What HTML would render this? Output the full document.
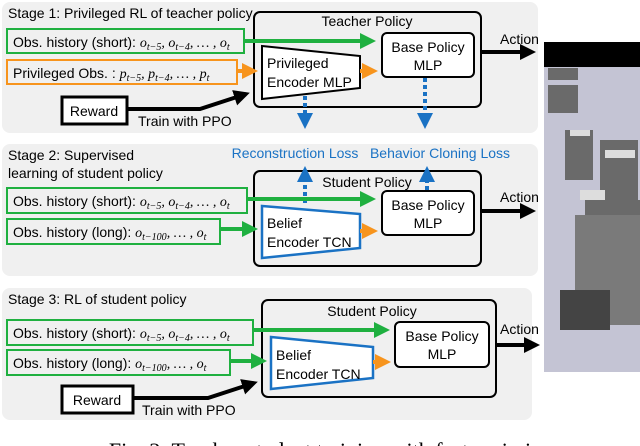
<!DOCTYPE html>
<html><head><meta charset="utf-8"><style>
html,body{margin:0;padding:0;background:#fff;}
svg{display:block;font-family:"Liberation Sans",sans-serif;}
.m{font-family:"Liberation Serif",serif;font-style:italic;}
</style></head><body>
<svg width="640" height="446" viewBox="0 0 640 446" xmlns="http://www.w3.org/2000/svg">
<defs>
<marker id="ag" markerWidth="4" markerHeight="4" refX="3" refY="2" orient="auto" markerUnits="strokeWidth"><path d="M0,0L4,2L0,4z" fill="#1fb040"/></marker>
<marker id="ao" markerWidth="4" markerHeight="4" refX="3" refY="2" orient="auto" markerUnits="strokeWidth"><path d="M0,0L4,2L0,4z" fill="#f7941d"/></marker>
<marker id="ak" markerWidth="4" markerHeight="4" refX="3" refY="2" orient="auto" markerUnits="strokeWidth"><path d="M0,0L4,2L0,4z" fill="#000"/></marker>
<marker id="ab" markerWidth="4" markerHeight="4" refX="3" refY="2" orient="auto" markerUnits="strokeWidth"><path d="M0,0L4,2L0,4z" fill="#1a72c4"/></marker>
</defs>
<rect x="2" y="2" width="536" height="131" rx="8" fill="#f0f0f0"/>
<rect x="2" y="144" width="536" height="132" rx="8" fill="#f0f0f0"/>
<rect x="2" y="288" width="530" height="132" rx="8" fill="#f0f0f0"/>

<rect x="544" y="42" width="96" height="330" fill="#c4c4d4"/>
<rect x="544" y="42" width="96" height="25" fill="#000"/>
<g fill="#6a6a6a">
<rect x="548" y="68" width="30" height="12"/>
<rect x="548" y="85" width="30" height="28"/>
<rect x="565" y="130" width="28" height="50"/>
<rect x="600" y="140" width="38" height="70"/>
<rect x="585" y="200" width="55" height="60"/>
<rect x="575" y="215" width="65" height="110" fill="#7a7a7a"/>
<rect x="560" y="290" width="50" height="40" fill="#444"/>
</g>
<g fill="#ddd"><rect x="580" y="190" width="25" height="10"/><rect x="605" y="150" width="30" height="8"/><rect x="570" y="130" width="20" height="6"/></g>

<text x="8" y="18" font-size="14">Stage 1: Privileged RL of teacher policy</text>
<rect x="254" y="12" width="227" height="95" rx="6" fill="none" stroke="#000" stroke-width="2"/>
<text x="367" y="26" font-size="14" text-anchor="middle">Teacher Policy</text>
<rect x="7" y="29" width="237" height="24" fill="#f0f0f0" stroke="#1fb040" stroke-width="2"/>
<text x="13" y="47" font-size="14">Obs. history (short): <tspan class="m">o<tspan font-size="10" dy="3">t−5</tspan><tspan dy="-3">, o</tspan><tspan font-size="10" dy="3">t−4</tspan><tspan dy="-3">, … , o</tspan><tspan font-size="10" dy="3">t</tspan></tspan></text>
<rect x="7" y="60" width="230" height="24" fill="#f0f0f0" stroke="#f7941d" stroke-width="2"/>
<text x="13" y="78" font-size="14">Privileged Obs. : <tspan class="m">p<tspan font-size="10" dy="3">t−5</tspan><tspan dy="-3">, p</tspan><tspan font-size="10" dy="3">t−4</tspan><tspan dy="-3">, … , p</tspan><tspan font-size="10" dy="3">t</tspan></tspan></text>
<path d="M262,46 L360,56 L360,88 L262,99 Z" fill="#fff" stroke="#000" stroke-width="2"/>
<text x="267" y="68" font-size="14">Privileged</text>
<text x="267" y="87" font-size="14">Encoder MLP</text>
<rect x="382" y="33" width="92" height="44" rx="5" fill="#fff" stroke="#000" stroke-width="2"/>
<text x="428" y="52" font-size="14" text-anchor="middle">Base Policy</text>
<text x="428" y="70" font-size="14" text-anchor="middle">MLP</text>
<line x1="244" y1="41" x2="372" y2="41" stroke="#1fb040" stroke-width="4" marker-end="url(#ag)"/>
<line x1="237" y1="71" x2="254" y2="71" stroke="#f7941d" stroke-width="4" marker-end="url(#ao)"/>
<line x1="360" y1="71" x2="374" y2="71" stroke="#f7941d" stroke-width="4" marker-end="url(#ao)"/>
<line x1="481" y1="52" x2="532" y2="52" stroke="#000" stroke-width="4" marker-end="url(#ak)"/>
<text x="500" y="44" font-size="14">Action</text>
<rect x="62" y="97" width="65" height="27" fill="#fff" stroke="#000" stroke-width="3"/>
<text x="94" y="116" font-size="14" text-anchor="middle">Reward</text>
<path d="M127,109 L200,109 L246,94" fill="none" stroke="#000" stroke-width="4" marker-end="url(#ak)"/>
<text x="138" y="126" font-size="14">Train with PPO</text>
<line x1="305" y1="96" x2="305" y2="125" stroke="#1a72c4" stroke-width="4" stroke-dasharray="4,3" marker-end="url(#ab)"/>
<line x1="425" y1="78" x2="425" y2="125" stroke="#1a72c4" stroke-width="4" stroke-dasharray="4,3" marker-end="url(#ab)"/>

<text x="8" y="160" font-size="14">Stage 2: Supervised</text>
<text x="8" y="178" font-size="14">learning of student policy</text>
<text x="295" y="158" font-size="14" fill="#1a72c4" text-anchor="middle">Reconstruction Loss</text>
<text x="440" y="158" font-size="14" fill="#1a72c4" text-anchor="middle">Behavior Cloning Loss</text>
<rect x="254" y="171" width="227" height="95" rx="6" fill="none" stroke="#000" stroke-width="2"/>
<text x="367" y="187" font-size="14" text-anchor="middle">Student Policy</text>
<line x1="305" y1="203" x2="305" y2="170" stroke="#1a72c4" stroke-width="4" stroke-dasharray="4,3" marker-end="url(#ab)"/>
<line x1="427" y1="190" x2="427" y2="170" stroke="#1a72c4" stroke-width="4" stroke-dasharray="4,3" marker-end="url(#ab)"/>
<rect x="7" y="188" width="240" height="25" fill="#f0f0f0" stroke="#1fb040" stroke-width="2"/>
<text x="13" y="206" font-size="14">Obs. history (short): <tspan class="m">o<tspan font-size="10" dy="3">t−5</tspan><tspan dy="-3">, o</tspan><tspan font-size="10" dy="3">t−4</tspan><tspan dy="-3">, … , o</tspan><tspan font-size="10" dy="3">t</tspan></tspan></text>
<rect x="7" y="219" width="213" height="25" fill="#f0f0f0" stroke="#1fb040" stroke-width="2"/>
<text x="13" y="237" font-size="14">Obs. history (long): <tspan class="m">o<tspan font-size="10" dy="3">t−100</tspan><tspan dy="-3">, … , o</tspan><tspan font-size="10" dy="3">t</tspan></tspan></text>
<path d="M262,206 L360,214 L360,248 L262,258 Z" fill="#fff" stroke="#1a72c4" stroke-width="2.5"/>
<text x="267" y="228" font-size="14">Belief</text>
<text x="267" y="247" font-size="14">Encoder TCN</text>
<rect x="382" y="191" width="92" height="44" rx="5" fill="#fff" stroke="#000" stroke-width="2"/>
<text x="428" y="210" font-size="14" text-anchor="middle">Base Policy</text>
<text x="428" y="228" font-size="14" text-anchor="middle">MLP</text>
<line x1="247" y1="199" x2="372" y2="199" stroke="#1fb040" stroke-width="4" marker-end="url(#ag)"/>
<line x1="220" y1="229" x2="254" y2="229" stroke="#1fb040" stroke-width="4" marker-end="url(#ag)"/>
<line x1="360" y1="231" x2="374" y2="231" stroke="#f7941d" stroke-width="4" marker-end="url(#ao)"/>
<line x1="481" y1="211" x2="532" y2="211" stroke="#000" stroke-width="4" marker-end="url(#ak)"/>
<text x="500" y="202" font-size="14">Action</text>

<text x="8" y="304" font-size="14">Stage 3: RL of student policy</text>
<rect x="262" y="300" width="234" height="97" rx="6" fill="none" stroke="#000" stroke-width="2"/>
<text x="372" y="316" font-size="14" text-anchor="middle">Student Policy</text>
<rect x="7" y="320" width="246" height="25" fill="#f0f0f0" stroke="#1fb040" stroke-width="2"/>
<text x="13" y="338" font-size="14">Obs. history (short): <tspan class="m">o<tspan font-size="10" dy="3">t−5</tspan><tspan dy="-3">, o</tspan><tspan font-size="10" dy="3">t−4</tspan><tspan dy="-3">, … , o</tspan><tspan font-size="10" dy="3">t</tspan></tspan></text>
<rect x="7" y="350" width="223" height="25" fill="#f0f0f0" stroke="#1fb040" stroke-width="2"/>
<text x="13" y="368" font-size="14">Obs. history (long): <tspan class="m">o<tspan font-size="10" dy="3">t−100</tspan><tspan dy="-3">, … , o</tspan><tspan font-size="10" dy="3">t</tspan></tspan></text>
<path d="M271,337 L373,347 L373,378 L271,389 Z" fill="#fff" stroke="#1a72c4" stroke-width="2.5"/>
<text x="276" y="360" font-size="14">Belief</text>
<text x="276" y="379" font-size="14">Encoder TCN</text>
<rect x="395" y="322" width="94" height="45" rx="5" fill="#fff" stroke="#000" stroke-width="2"/>
<text x="442" y="341" font-size="14" text-anchor="middle">Base Policy</text>
<text x="442" y="359" font-size="14" text-anchor="middle">MLP</text>
<line x1="253" y1="330" x2="386" y2="330" stroke="#1fb040" stroke-width="4" marker-end="url(#ag)"/>
<line x1="230" y1="361" x2="263" y2="361" stroke="#1fb040" stroke-width="4" marker-end="url(#ag)"/>
<line x1="373" y1="362" x2="387" y2="362" stroke="#f7941d" stroke-width="4" marker-end="url(#ao)"/>
<line x1="496" y1="345" x2="536" y2="345" stroke="#000" stroke-width="4" marker-end="url(#ak)"/>
<text x="500" y="334" font-size="14">Action</text>
<rect x="62" y="386" width="71" height="27" fill="#fff" stroke="#000" stroke-width="3"/>
<text x="97" y="405" font-size="14" text-anchor="middle">Reward</text>
<path d="M133,398 L208,398 L254,383" fill="none" stroke="#000" stroke-width="4" marker-end="url(#ak)"/>
<text x="142" y="415" font-size="14">Train with PPO</text>

<text x="320" y="458" font-size="22" font-family="Liberation Serif,serif" text-anchor="middle">Fig. 3: Teacher-student training with feature imi</text>
</svg>
</body></html>
